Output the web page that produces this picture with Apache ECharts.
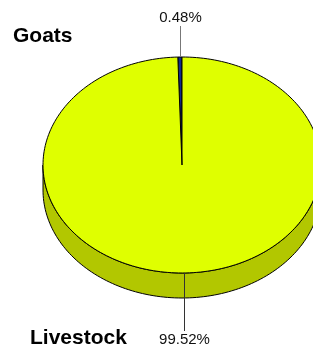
<!DOCTYPE html>
<html>
<head>
<meta charset="utf-8">
<style>
    html, body { margin: 0; padding: 0; overflow: hidden; background: #fff; }
</style>
</head>
<body>
<div id="pie" style="width:313px; height:348px;"></div>
<script src="https://cdn.jsdelivr.net/npm/echarts@6/dist/echarts.min.js"></script>
<script>
    // data
    var sliceNames = ['Goats', 'Other livestock'];
    var sliceValues = [0.48, 99.52];
    var titleTop = 'Goats';
    var titleBottom = 'Livestock';

    // look
    var topColors = ['#10298f', '#dfff00'];
    var sideColors = ['#0a1c66', '#b2c700'];
    var FONT = '"Liberation Sans", Arial, sans-serif';
    var CX = 182, CY = 165, RX = 139, RY = 108, DEPTH = 25;
    var START = 90;

    var total = sliceValues.reduce(function (a, b) { return a + b; }, 0);

    function pt(deg, dy) {
        var r = deg * Math.PI / 180;
        return [CX + RX * Math.cos(r), CY - RY * Math.sin(r) + dy];
    }

    function arcPoints(a0, a1, dy) {
        var n = Math.max(2, Math.ceil(Math.abs(a1 - a0) / 1.5));
        var pts = [];
        for (var k = 0; k <= n; k++) {
            pts.push(pt(a0 + (a1 - a0) * k / n, dy));
        }
        return pts;
    }

    function renderItem(params, api) {
        var i = params.dataIndex;
        var before = 0;
        for (var j = 0; j < i; j++) before += sliceValues[j];
        var a0 = START + before / total * 360;
        var a1 = a0 + api.value(1) / total * 360;
        var children = [];

        // side walls, only the front half (180..360 deg) is visible
        [[180, 360], [540, 720]].forEach(function (win) {
            var s = Math.max(a0, win[0]), e = Math.min(a1, win[1]);
            if (e > s) {
                var pts = arcPoints(s, e, 0).concat(arcPoints(e, s, DEPTH));
                children.push({
                    type: 'polygon',
                    shape: {points: pts},
                    style: {fill: sideColors[i], stroke: '#000', lineWidth: 1},
                    z2: 1
                });
            }
        });

        // top face
        var top = [[CX, CY]].concat(arcPoints(a0, a1, 0));
        children.push({
            type: 'polygon',
            shape: {points: top},
            style: {fill: topColors[i], stroke: '#000', lineWidth: 1, lineJoin: 'miter'},
            z2: 10
        });

        // label
        var mid = (a0 + a1) / 2;
        var p = pt(mid, 0);
        var up = Math.sin(mid * Math.PI / 180) >= 0;
        var x = Math.round(p[0]) + 0.5;
        var lineEnd = up ? 26 : 331;
        children.push({
            type: 'line',
            shape: {x1: x, y1: p[1], x2: x, y2: lineEnd},
            style: {stroke: up ? '#777' : '#333', lineWidth: 1},
            z2: 20
        });
        children.push({
            type: 'text',
            x: x,
            y: up ? 18 : 339.5,
            style: {
                text: (api.value(1) / total * 100).toFixed(2) + '%',
                font: '15px ' + FONT,
                fill: '#111',
                align: 'center',
                verticalAlign: 'middle'
            },
            z2: 20
        });

        return {type: 'group', children: children};
    }

    var chart = echarts.init(document.getElementById('pie'), null, {renderer: 'canvas'});
    chart.setOption({
        animation: false,
        backgroundColor: '#fff',
        graphic: [
            {
                type: 'text', x: 13, y: 36,
                style: {text: titleTop, font: 'bold 21px ' + FONT, fill: '#000', verticalAlign: 'middle'}
            },
            {
                type: 'text', x: 30, y: 338.5,
                style: {text: titleBottom, font: 'bold 21px ' + FONT, fill: '#000', verticalAlign: 'middle'}
            }
        ],
        series: [{
            type: 'custom',
            coordinateSystem: 'none',
            renderItem: renderItem,
            data: sliceValues.map(function (v, i) { return [sliceNames[i], v]; })
        }]
    });
</script>
</body>
</html>
